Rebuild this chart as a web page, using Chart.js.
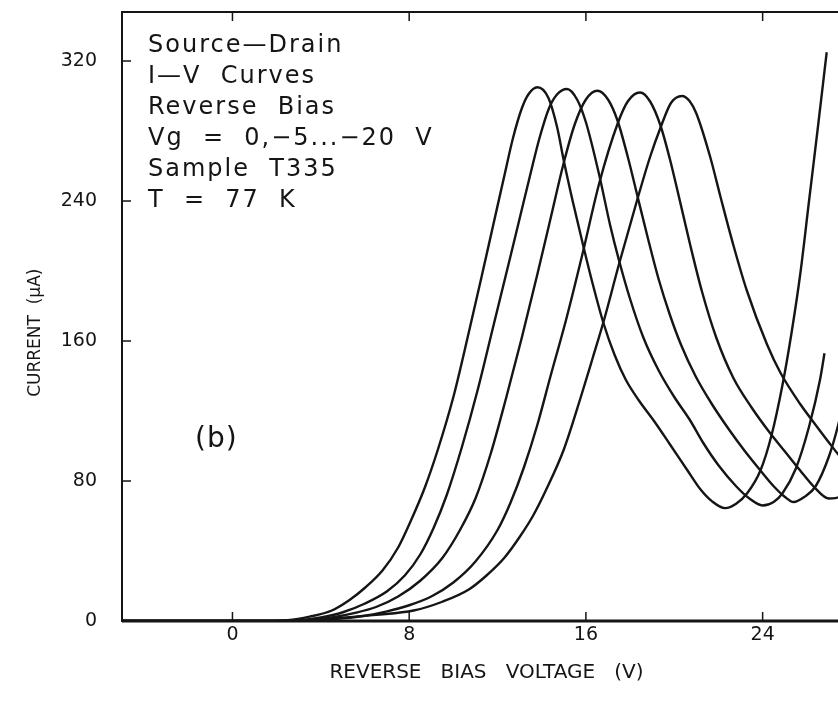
<!DOCTYPE html>
<html>
<head>
<meta charset="utf-8">
<title>Source-Drain I-V Curves</title>
<script src="https://cdn.jsdelivr.net/npm/chart.js@4.4.0/dist/chart.umd.min.js"></script>
<style>
  html, body { margin: 0; padding: 0; background: #fff; overflow: hidden; }
</style>
</head>
<body>
<canvas id="ivChart" width="860" height="702"></canvas>
<script>
// curves, one pair of arrays per gate voltage
const vg0V = [-5, 1, 2.5, 3.5, 4.5, 5.3, 6, 6.8, 7.5, 8.1, 8.7, 9.3, 10, 10.7, 11.3, 11.8, 12.3, 12.7, 13.1, 13.4, 13.8, 14.3, 14.7, 15.0, 15.4, 15.85, 16.3, 16.8, 17.3, 17.8, 18.4, 19.1, 19.8, 20.6, 21.2, 21.7, 22.3, 22.8, 23.3, 23.9, 24.4, 24.9, 25.3, 25.7, 26.1, 26.5, 26.9];
const vg0I = [0, 0, 0.5, 2.5, 6, 12, 19, 29, 42, 58, 76, 98, 128, 165, 198, 226, 254, 276, 293, 301, 305, 299, 282, 263, 240, 216, 193, 170, 152, 138, 126, 114, 101, 86, 75, 68.5, 64.5, 67, 73, 86, 106, 135, 164, 198, 240, 282, 325];

const vg5V = [-5, 1.5, 3, 4, 5, 6, 7, 7.8, 8.5, 9.1, 9.7, 10.4, 11.1, 11.8, 12.5, 13, 13.5, 13.9, 14.33, 14.7, 15.14, 15.6, 16, 16.6, 17.1, 17.5, 18, 18.6, 19.3, 20, 20.7, 21.3, 22, 22.8, 23.4, 24, 24.5, 24.9, 25.5, 26.1, 26.6, 26.8];
const vg5I = [0, 0, 0.4, 2, 5, 10, 17, 26, 38, 53, 72, 100, 132, 168, 204, 230, 256, 276, 293, 301, 304, 298, 285, 255, 226, 206, 184, 162, 143, 128, 115, 102, 89, 77, 70, 66, 68, 73, 87, 111, 138, 153];

const vg10V = [-5, 2, 3.5, 4.5, 5.5, 6.5, 7.5, 8.5, 9.5, 10.3, 11, 11.7, 12.4, 13.1, 13.8, 14.4, 15, 15.5, 16, 16.52, 17, 17.43, 17.9, 18.33, 18.8, 19.3, 19.8, 20.3, 20.96, 21.7, 22.5, 23.2, 23.9, 24.5, 25, 25.4, 25.9, 26.4, 27, 27.4, 27.9];
const vg10I = [0, 0, 0.4, 2, 4.5, 8, 14, 23, 36, 52, 70, 96, 128, 162, 198, 230, 262, 284, 298, 303, 298, 286, 265, 243, 219, 195, 175, 158, 140, 124, 109, 97, 86, 77, 71, 68, 71, 77, 94, 111, 138];

const vg15V = [-5, 2.5, 4, 5, 6, 7, 8, 9, 10, 11, 12, 12.6, 13.2, 13.8, 14.4, 15.1, 15.85, 16.6, 17.43, 17.9, 18.45, 18.9, 19.38, 19.8, 20.2, 20.7, 21.26, 21.9, 22.67, 23.5, 24.3, 25, 25.7, 26.3, 27, 27.5, 28];
const vg15I = [0, 0, 0.5, 1.5, 3, 5.5, 9, 14, 22, 34, 52, 68, 88, 112, 140, 172, 210, 250, 284, 297, 302, 297, 283, 264, 243, 216, 188, 162, 139, 122, 108, 97, 86, 77, 70, 71, 76];

const vg20V = [-5, 3, 4.6, 6.5, 8.2, 9.5, 10.7, 11.5, 12.3, 13, 13.6, 14.2, 15, 15.77, 16.3, 16.82, 17.5, 18.33, 18.9, 19.38, 19.85, 20.35, 20.7, 21, 21.63, 22.1, 22.67, 23.28, 24.2, 24.8, 25.7, 26.4, 27, 27.5, 28];
const vg20I = [0, 0, 1.5, 3.5, 6, 11, 18, 26, 36, 48, 60, 75, 98, 128, 150, 172, 204, 241, 265, 282, 296, 300, 297, 290, 265, 242, 215, 189, 158, 142, 124, 112, 102, 94, 87];

const gateLabels = ["Vg = 0 V", "Vg = -5 V", "Vg = -10 V", "Vg = -15 V", "Vg = -20 V"];
const noteLines = ["Source\u2014Drain", "I\u2014V  Curves", "Reverse  Bias", "Vg  =  0,\u22125...\u221220  V", "Sample  T335", "T  =  77  K"];
const panelTag = "(b)";

const FONT = "'DejaVu Sans', 'Liberation Sans', sans-serif";
const INK = "#151515";

const toPoints = (vs, is) => vs.map((v, i) => ({ x: v, y: is[i] }));

const curves = [
  toPoints(vg0V, vg0I),
  toPoints(vg5V, vg5I),
  toPoints(vg10V, vg10I),
  toPoints(vg15V, vg15I),
  toPoints(vg20V, vg20I),
];

// box frame, inward ticks and the text notes
const framePlugin = {
  id: "frame",
  afterDraw(chart) {
    const { ctx, chartArea: a, scales } = chart;
    const x = scales.x, y = scales.y;
    ctx.save();
    ctx.strokeStyle = INK;
    ctx.lineWidth = 2;
    ctx.strokeRect(a.left, a.top, a.right - a.left, a.bottom - a.top);
    ctx.lineWidth = 3;
    ctx.beginPath();
    ctx.moveTo(a.left, a.bottom);
    ctx.lineTo(a.right, a.bottom);
    ctx.stroke();

    ctx.lineWidth = 1.5;
    ctx.beginPath();
    x.ticks.forEach((t) => {
      const px = x.getPixelForValue(t.value);
      const len = t.value % 8 === 0 ? 9 : 5;
      ctx.moveTo(px, a.bottom);
      ctx.lineTo(px, a.bottom - len);
      if (t.value % 4 === 0) {
        ctx.moveTo(px, a.top);
        ctx.lineTo(px, a.top + len);
      }
    });
    y.ticks.forEach((t) => {
      const py = y.getPixelForValue(t.value);
      const len = t.value % 80 === 0 ? 9 : 5;
      ctx.moveTo(a.left, py);
      ctx.lineTo(a.left + len, py);
      ctx.moveTo(a.right, py);
      ctx.lineTo(a.right - len, py);
    });
    ctx.stroke();

    ctx.fillStyle = INK;
    ctx.font = "24px " + FONT;
    ctx.letterSpacing = "2px";
    ctx.textBaseline = "middle";
    ctx.textAlign = "left";
    noteLines.forEach((line, i) => {
      ctx.fillText(line, a.left + 26, a.top + 34 + i * 31);
    });
    ctx.font = "28px " + FONT;
    ctx.letterSpacing = "1px";
    ctx.fillText(panelTag, a.left + 73, a.top + 428);
    ctx.restore();
  },
};

new Chart(document.querySelector("#ivChart"), {
  type: "line",
  data: {
    datasets: curves.map((pts, i) => ({
      label: gateLabels[i],
      data: pts,
      borderColor: INK,
      borderWidth: 2.4,
      pointRadius: 0,
      fill: false,
      cubicInterpolationMode: "monotone",
    })),
  },
  plugins: [framePlugin],
  options: {
    responsive: false,
    animation: false,
    layout: { padding: { top: 12, right: 9, left: 0, bottom: 0 } },
    plugins: {
      legend: { display: false },
      tooltip: { enabled: false },
    },
    scales: {
      x: {
        type: "linear",
        min: -5,
        max: 28,
        afterBuildTicks: (s) => {
          s.ticks = s.ticks.filter((t) => t.value % 2 === 0);
        },
        afterFit: (s) => {
          s.height = 81;
        },
        grid: { display: false, drawTicks: false },
        border: { display: false },
        ticks: {
          stepSize: 2,
          autoSkip: false,
          maxRotation: 0,
          padding: 3,
          color: INK,
          font: { family: FONT, size: 19 },
          callback: (v) => (v % 8 === 0 ? String(v) : null),
        },
        title: {
          display: true,
          text: "REVERSE   BIAS   VOLTAGE   (V)",
          color: INK,
          font: { family: FONT, size: 20 },
          padding: { top: 0, bottom: 17 },
        },
      },
      y: {
        type: "linear",
        min: 0,
        max: 348,
        afterBuildTicks: (s) => {
          s.ticks = s.ticks.filter((t) => t.value % 20 === 0);
        },
        afterFit: (s) => {
          s.width = 122;
          s.paddingTop = 0;
          s.paddingBottom = 0;
        },
        grid: { display: false, drawTicks: false },
        border: { display: false },
        ticks: {
          stepSize: 20,
          autoSkip: false,
          padding: 25,
          color: INK,
          font: { family: FONT, size: 19 },
          callback: (v) => (v % 80 === 0 ? String(v) : null),
        },
        title: {
          display: true,
          text: "CURRENT  (\u03bcA)      ",
          color: INK,
          font: { family: FONT, size: 17 },
          padding: { top: 25, bottom: 0 },
        },
      },
    },
  },
});
</script>
</body>
</html>
